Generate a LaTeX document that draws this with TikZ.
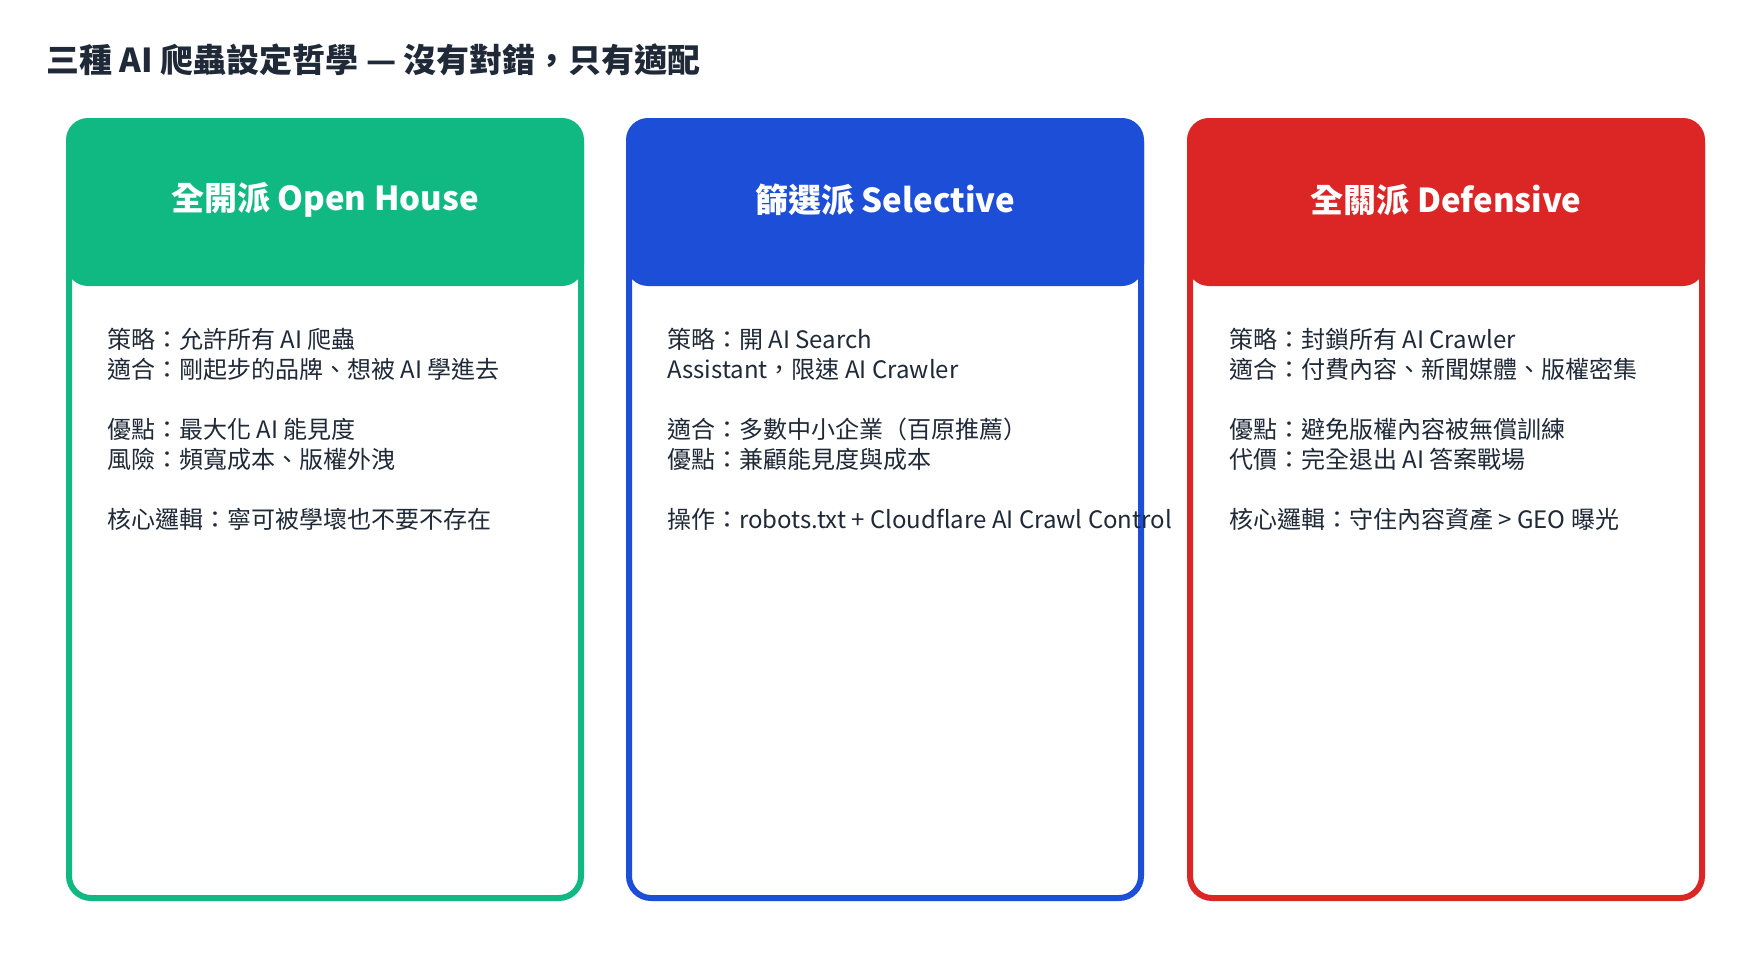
\documentclass[tikz,border=0pt]{standalone}
\usepackage{fontspec}
\setmainfont{Noto Sans CJK TC}
\definecolor{cg}{HTML}{10B981}
\definecolor{cb}{HTML}{1D4ED8}
\definecolor{cr}{HTML}{DC2626}
\definecolor{ct}{HTML}{1F2937}
\begin{document}
\begin{tikzpicture}[x=1pt,y=-1pt,
  body/.style={anchor=west,font=\fontsize{24}{28}\selectfont,text=ct,inner sep=0},
  head/.style={font=\fontsize{33}{38}\selectfont\bfseries,text=white}]
\useasboundingbox[fill=white] (0,0) rectangle (1764,974);
\node[anchor=west,font=\fontsize{33}{38}\selectfont\bfseries,text=ct,inner sep=0] (title) at (46,60) {三種 AI 爬蟲設定哲學 — 沒有對錯，只有適配};
\foreach \x/\c/\h/\n in {66/cg/全開派 Open House/a, 626/cb/篩選派 Selective/b, 1187/cr/全關派 Defensive/c}{
  \fill[\c,rounded corners=22] (\x,118) rectangle (\x+518,286);
  \fill[\c] (\x,200) rectangle (\x+518,270);
  \draw[\c,line width=6,rounded corners=22] (\x+3,121) rectangle (\x+515,898);
  \node[head] (h\n) at (\x+259,200) {\h};
}
\foreach \x/\n/\la/\lb/\lc/\ld/\le in {
 107/a/策略：允許所有 AI 爬蟲/適合：剛起步的品牌、想被 AI 學進去/優點：最大化 AI 能見度/風險：頻寬成本、版權外洩/核心邏輯：寧可被學壞也不要不存在,
 667/b/策略：開 AI Search / Assistant，限速 AI Crawler/適合：多數中小企業（百原推薦）/優點：兼顧能見度與成本/操作：robots.txt + Cloudflare AI Crawl Control/核心邏輯：用 GEO 通道收益，控制訓練爬蟲開銷,
 1229/c/策略：封鎖所有 AI Crawler/適合：付費內容、新聞媒體、版權密集/優點：避免版權內容被無償訓練/代價：完全退出 AI 答案戰場/核心邏輯：守住內容資產 > GEO 曝光}{
  \node[body] (t\n1) at (\x,339) {\la};
  \node[body] (t\n2) at (\x,369) {\lb};
  \node[body] (t\n3) at (\x,429) {\lc};
  \node[body] (t\n4) at (\x,459) {\ld};
  \node[body] (t\n5) at (\x,519) {\le};
}
\end{tikzpicture}
\end{document}
